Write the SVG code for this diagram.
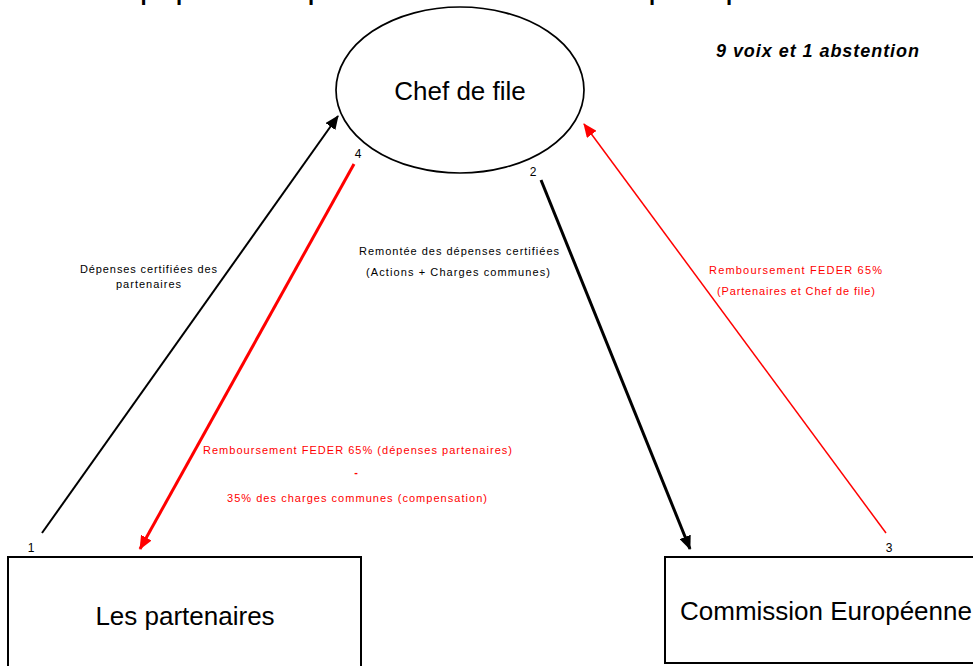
<svg xmlns="http://www.w3.org/2000/svg" width="973" height="666" viewBox="0 0 973 666">
<style>
text{font-family:"Liberation Sans",Arial,sans-serif}
.node{fill:#fff;stroke:#000;stroke-width:2}
.big{font-size:26px;text-anchor:middle;fill:#000}
.lbl{font-size:11px;text-anchor:middle}
.num{font-size:12px;fill:#000;text-anchor:middle}
.blk{fill:#000}
.red{fill:#ff0000}
</style>
<defs>
<marker id="ab" markerUnits="userSpaceOnUse" markerWidth="14" markerHeight="12" refX="13" refY="6" orient="auto" viewBox="0 0 14 12">
<path d="M0,0 L14,6 L0,12 Z" fill="#000"/>
</marker>
<marker id="ar" markerUnits="userSpaceOnUse" markerWidth="14" markerHeight="12" refX="13" refY="6" orient="auto" viewBox="0 0 14 12">
<path d="M0,0 L14,6 L0,12 Z" fill="#ff0000"/>
</marker>
</defs>
<rect width="973" height="666" fill="#fff"/>
<text x="50" y="0" style="font-size:22px;font-weight:bold" fill="#000">Schéma proposé et accepté du mode de remboursement par les partenaires</text>
<text x="716" y="57" style="font-size:18px;font-weight:bold;font-style:italic" fill="#000" textLength="203" lengthAdjust="spacing">9 voix et 1 abstention</text>
<g id="chef">
<ellipse class="node" cx="460" cy="90" rx="124" ry="83" style="stroke-width:1.7"/>
<text class="big" x="460" y="100">Chef de file</text>
</g>
<g id="partenaires">
<rect class="node" x="8" y="557" width="353" height="120"/>
<text class="big" x="185" y="625">Les partenaires</text>
</g>
<g id="commission">
<rect class="node" x="665" y="557" width="330" height="106"/>
<text class="big" x="680" y="620" style="text-anchor:start">Commission Européenne</text>
</g>
<g id="connectors">
<line x1="42" y1="533" x2="338" y2="116" stroke="#000" stroke-width="2" marker-end="url(#ab)"/>
<line x1="354" y1="164" x2="140" y2="549" stroke="#ff0000" stroke-width="3" marker-end="url(#ar)"/>
<line x1="541" y1="180" x2="690" y2="549" stroke="#000" stroke-width="3" marker-end="url(#ab)"/>
<line x1="886" y1="533" x2="584" y2="124" stroke="#ff0000" stroke-width="1.5" marker-end="url(#ar)"/>
<text class="num" x="31" y="552">1</text>
<text class="num" x="533" y="176">2</text>
<text class="num" x="889" y="552">3</text>
<text class="num" x="358" y="158">4</text>
<text class="lbl blk" x="148.5" y="273" textLength="137" lengthAdjust="spacing">Dépenses certifiées des</text>
<text class="lbl blk" x="148.5" y="288" textLength="65" lengthAdjust="spacing">partenaires</text>
<text class="lbl blk" x="459" y="255" textLength="200" lengthAdjust="spacing">Remontée des dépenses certifiées</text>
<text class="lbl blk" x="458" y="276" textLength="184" lengthAdjust="spacing">(Actions + Charges communes)</text>
<text class="lbl red" x="795.5" y="274" textLength="173" lengthAdjust="spacing">Remboursement FEDER 65%</text>
<text class="lbl red" x="796" y="295" textLength="158" lengthAdjust="spacing">(Partenaires et Chef de file)</text>
<text class="lbl red" x="357.5" y="454" textLength="309" lengthAdjust="spacing">Remboursement FEDER 65% (dépenses partenaires)</text>
<text class="lbl red" x="356" y="476" style="font-weight:bold">-</text>
<text class="lbl red" x="357" y="502" textLength="260" lengthAdjust="spacing">35% des charges communes (compensation)</text>
</g>
</svg>
